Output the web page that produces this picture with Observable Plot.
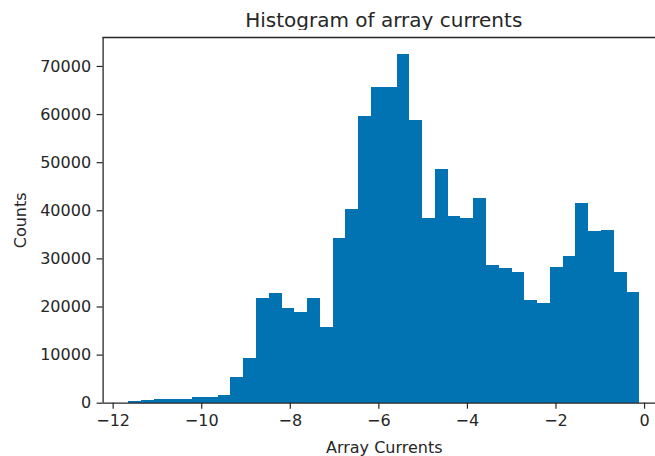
<!DOCTYPE html>
<html>
<head>
<meta charset="utf-8">
<script src="https://cdn.jsdelivr.net/npm/d3@7"></script>
<script src="https://cdn.jsdelivr.net/npm/@observablehq/plot@0.6"></script>
<style>
  html, body { margin: 0; padding: 0; background: #fff; overflow: hidden; width: 655px; height: 456px; }
  #wrap { position: relative; width: 655px; height: 456px; }
  #title { position: absolute; left: 102.6px; width: 562.3px; top: 10px; text-align: center;
           font-family: "DejaVu Sans", sans-serif; font-size: 20px; line-height: 20px; color: #262626; white-space: nowrap; }
  #chart { position: absolute; left: 0; top: 30px; }
</style>
</head>
<body>
<div id="wrap">
  <div id="title">Histogram of array currents</div>
  <div id="chart"></div>
</div>
<script>
// Bin edges of the histogram (Array Currents)
const binEdges = [-11.650, -11.361, -11.073, -10.784, -10.496, -10.207, -9.918, -9.630, -9.341, -9.053,
  -8.764, -8.475, -8.187, -7.898, -7.610, -7.321, -7.032, -6.744, -6.455, -6.167,
  -5.878, -5.589, -5.301, -5.012, -4.724, -4.435, -4.146, -3.858, -3.569, -3.281,
  -2.992, -2.703, -2.415, -2.126, -1.838, -1.549, -1.260, -0.972, -0.683, -0.395, -0.106];
// Counts per bin
const counts = [450, 500, 800, 850, 850, 1150, 1200, 1550, 5400, 9200,
  21700, 22750, 19600, 18900, 21700, 15800, 34300, 40250, 59500, 65700,
  65700, 72400, 58850, 38400, 48600, 38800, 38450, 42600, 28650, 27950,
  27250, 21350, 20650, 28300, 30450, 41550, 35650, 36000, 27250, 23100];
const xTicks = [-12, -10, -8, -6, -4, -2, 0];
const yTicks = [0, 10000, 20000, 30000, 40000, 50000, 60000, 70000];
const xLimits = [-12.227, 0.471];
const yLimits = [0, 76020];

const bins = counts.map((c, i) => ({x1: binEdges[i], x2: binEdges[i + 1], count: c}));
const barColor = "#0173b2";
const ink = "#262626";

const W = 655, H = 426;
const chart = Plot.plot({
  width: W,
  height: H,
  marginLeft: 102.6,
  marginRight: -9.9,
  marginTop: 7,
  marginBottom: 53.3,
  style: {fontFamily: "DejaVu Sans, sans-serif", fontSize: "16px", color: ink, background: "#fff", overflow: "hidden"},
  x: {domain: xLimits},
  y: {domain: yLimits},
  marks: [
    Plot.rectY(bins, {x1: "x1", x2: "x2", y: "count", fill: barColor, shapeRendering: "crispEdges"}),
    Plot.ruleX([xLimits[0]], {stroke: ink, strokeWidth: 1.3}),
    Plot.ruleY([yLimits[0], yLimits[1]], {stroke: ink, strokeWidth: 1.3}),
    Plot.axisX({ticks: xTicks, tickSize: 6, tickPadding: 5, tickFormat: d3.format("d"),
      label: "Array Currents", labelAnchor: "center", labelArrow: "none", labelOffset: 50, stroke: ink, strokeWidth: 1.2}),
    Plot.axisY({ticks: yTicks, tickSize: 6, tickPadding: 6, tickFormat: d => String(d),
      label: "Counts", labelAnchor: "center", labelArrow: "none", labelOffset: 88, stroke: ink, strokeWidth: 1.2})
  ]
});
document.getElementById("chart").appendChild(chart);
</script>
</body>
</html>
